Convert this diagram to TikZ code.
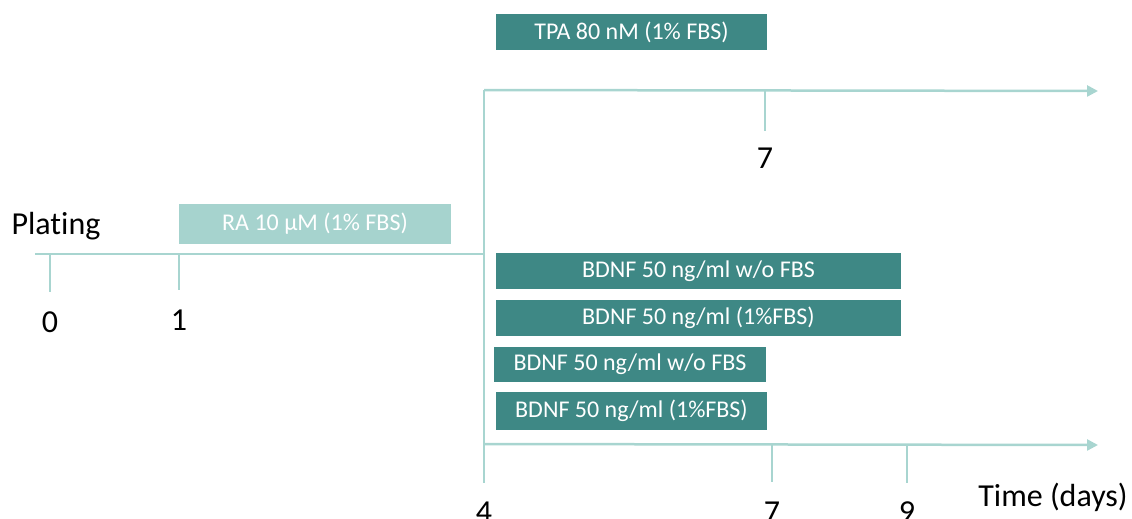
\documentclass[tikz,border=0pt]{standalone}
\usepackage{fontspec}
\setmainfont[Ligatures=NoCommon]{Carlito}
\usetikzlibrary{arrows.meta}
\definecolor{darkteal}{HTML}{3E8885}
\definecolor{lightteal}{HTML}{A6D3CE}
\definecolor{axiscol}{HTML}{A8D5D0}
\tikzset{
  axis/.style={draw=axiscol, line width=2.5pt},
  arrowaxis/.style={axis, -{Triangle[length=11pt,width=11pt]}},
  darkbox/.style={fill=darkteal, draw=none, inner sep=0pt, text=white, font=\fontsize{24}{28}\selectfont},
  lightbox/.style={fill=lightteal, draw=none, inner sep=0pt, text=white, font=\fontsize{24}{28}\selectfont},
  biglabel/.style={inner sep=0pt, text=black, font=\fontsize{32}{38}\selectfont},
}
\begin{document}
\begin{tikzpicture}[x=1pt,y=-1pt]
\useasboundingbox (0,0) rectangle (1132,519);
% main timeline
\coordinate (m0) at (35,254);
\coordinate (m1) at (484,254);
\coordinate (t0a) at (50,254); \coordinate (t0b) at (50,292);
\coordinate (t1a) at (179,254); \coordinate (t1b) at (179,290);
\draw[axis] (m0) -- (m1);
\draw[axis] (t0a) -- (t0b);
\draw[axis] (t1a) -- (t1b);
% vertical branch
\coordinate (vtop) at (484,90);
\coordinate (vbot) at (484,483);
\coordinate (bstart) at (484,444);
\coordinate (tend) at (1098,91);
\coordinate (bend) at (1098,445);
\draw[axis] (vtop) -- (vbot);
\draw[arrowaxis] (vtop) -- (tend);
\draw[arrowaxis] (bstart) -- (bend);
% ticks
\coordinate (u7a) at (765,90); \coordinate (u7b) at (765,131);
\draw[axis] (u7a) -- (u7b);
\coordinate (l7a) at (772,444); \coordinate (l7b) at (772,482);
\draw[axis] (l7a) -- (l7b);
\coordinate (l9a) at (907,444); \coordinate (l9b) at (907,483);
\draw[axis] (l9a) -- (l9b);
% labels
\node[biglabel] (plating) at (56,226) {Plating};
\node[biglabel] (n0) at (50,322) {0};
\node[biglabel] (n1) at (179,320) {1};
\node[biglabel] (u7) at (765,158) {7};
\node[biglabel] (n4) at (484,512) {4};
\node[biglabel] (n7) at (772,512) {7};
\node[biglabel] (n9) at (907,512) {9};
\node[biglabel] (time) at (1053,497) {Time (days)};
% boxes
\node[lightbox, minimum width=272pt, minimum height=40pt] (ra) at (315,224) {RA 10 µM (1\% FBS)};
\node[darkbox, minimum width=271pt, minimum height=36pt] (tpa) at (631.5,32) {TPA 80 nM (1\% FBS)};
\node[darkbox, minimum width=405pt, minimum height=36pt] (b1) at (698.5,271) {BDNF 50 ng/ml w/o FBS};
\node[darkbox, minimum width=405pt, minimum height=36pt] (b2) at (698.5,318) {BDNF 50 ng/ml (1\%FBS)};
\node[darkbox, minimum width=272pt, minimum height=35pt] (b3) at (630,364.5) {BDNF 50 ng/ml w/o FBS};
\node[darkbox, minimum width=271pt, minimum height=38pt] (b4) at (631.5,411) {BDNF 50 ng/ml (1\%FBS)};
\end{tikzpicture}
\end{document}
